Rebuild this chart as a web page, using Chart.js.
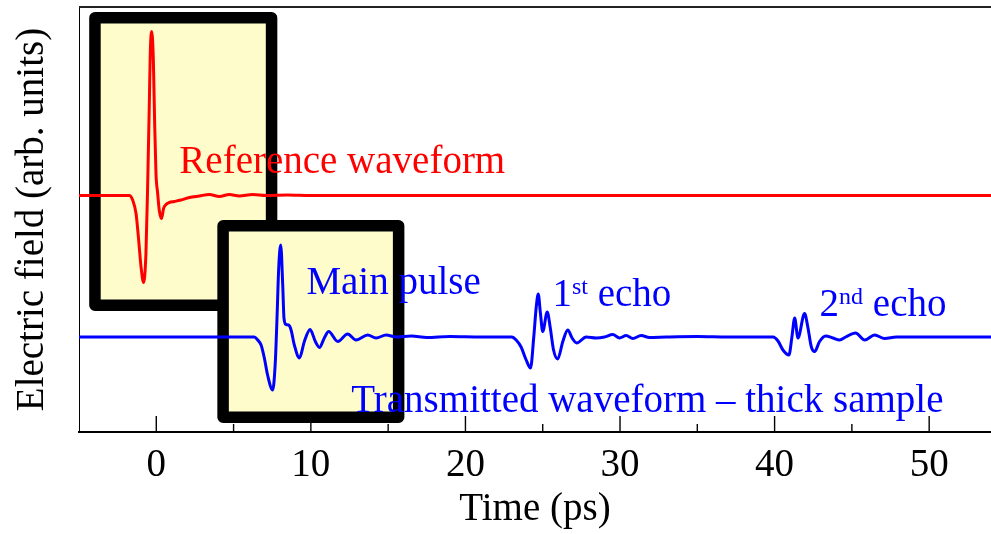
<!DOCTYPE html>
<html>
<head>
<meta charset="utf-8">
<title>Electric field vs time</title>
<script src="https://cdn.jsdelivr.net/npm/chart.js@4.4.1/dist/chart.umd.min.js"></script>
<style>
  html, body { margin: 0; padding: 0; background: #fff; }
  #wrap { width: 991px; height: 534px; }
</style>
</head>
<body>
<div id="wrap"><canvas id="waveChart"></canvas></div>
<script>
// time axis (ps)
const timeTicks = [0, 10, 20, 30, 40, 50];
const timeMinorTicks = [5, 15, 25, 35, 45];

// reference pulse, field relative to its own baseline
const refTime = [-5, -2.5, -1.75, -1.53, -1.31, -1.14, -0.99, -0.82, -0.67, -0.56, -0.45, -0.39, -0.30,
  -0.19, -0.11, -0.02, 0.09, 0.19, 0.34, 0.47, 0.63, 0.84, 1.17, 1.6, 2.14, 2.78, 3.43, 4.08, 4.72,
  5.37, 6.23, 7.1, 8.5, 10, 15, 25, 40, 54];
const refField = [0, 0, 0, -0.045, -0.18, -0.445, -0.71, -0.87, -0.58, 0.09, 0.92, 1.42, 1.64,
  1.355, 0.755, 0.22, 0.02, -0.145, -0.23, -0.13, -0.09, -0.07, -0.06, -0.045, -0.02, -0.005, 0.01, -0.01, 0.01,
  -0.005, 0.01, 0, 0.005, 0, 0, 0, 0, 0];

// transmitted pulse through the thick sample: main pulse, 1st and 2nd echo
const transTime = [-5, 5.5, 6.34, 6.56, 6.78, 6.99, 7.2, 7.53, 7.70, 7.81, 7.92, 8.05, 8.18, 8.26, 8.39,
  8.56, 8.72, 8.93, 9.26, 9.58, 9.95, 10.29, 10.55, 10.87, 11.15, 11.74, 12.38, 12.92, 13.68, 14.22,
  14.87, 15.52, 16.5, 17.5, 19, 21,
  23.0, 23.28, 23.6, 23.93, 24.21, 24.42, 24.58, 24.71, 24.85, 25.0, 25.29, 25.48, 25.7, 25.97, 26.3,
  26.62, 26.9, 27.2, 27.81, 28.46, 29.0, 29.53, 29.97, 30.4, 30.83, 31.37, 31.9, 33, 35, 37,
  39.9, 40.22, 40.54, 40.93, 41.12, 41.3, 41.51, 41.94, 42.16, 42.37, 42.59, 42.91, 43.3, 43.77, 44.21,
  44.6, 45.24, 45.83, 46.47, 47.12, 47.88, 50, 54];
const transField = [0, 0, 0, -0.03, -0.08, -0.21, -0.38, -0.53, -0.25, 0.19, 0.69, 0.92, 0.52, 0.19, 0.125,
  0.12, 0.07, -0.08, -0.21, -0.045, 0.075, -0.045, -0.105, -0.01, 0.055, -0.045, 0.03, -0.03, 0.02, -0.01,
  0.02, 0, 0.01, -0.005, 0.005, 0,
  0, -0.03, -0.1, -0.23, -0.31, 0, 0.30, 0.43, 0.24, 0.055, 0.25, 0.10, -0.13, -0.22, -0.045,
  0.07, -0.01, -0.06, 0, -0.01, 0, 0.025, -0.01, 0.015, -0.015, 0.015, -0.005, 0, 0.005, 0,
  0, -0.04, -0.13, -0.18, 0, 0.19, -0.01, 0.235, 0.09, -0.095, -0.145, -0.045, 0.01, -0.01, -0.03,
  0, 0.04, -0.03, 0.02, -0.015, 0, 0, 0];

// reference trace sits above the transmitted one
const refOffset = 1.415;

const serif = '"Liberation Serif", "Times New Roman", serif';

// highlighted pulse regions (data units)
const panels = [
  { x0: -4.34, x1: 7.83, y0: 0.26, y1: 3.25 },
  { x0: 3.95, x1: 16.05, y0: -0.86, y1: 1.17 }
];

// text notes: [text, superscript?]
const notes = [
  { x: 1.49, y: 1.64, color: '#ff0000', parts: [['Reference waveform']] },
  { x: 9.71, y: 0.43, color: '#0000ff', parts: [['Main pulse']] },
  { x: 25.63, y: 0.31, color: '#0000ff', parts: [['1'], ['st', true], [' echo']] },
  { x: 42.91, y: 0.21, color: '#0000ff', parts: [['2'], ['nd', true], [' echo']] },
  { x: 12.62, y: -0.75, color: '#0000ff', parts: [['Transmitted waveform \u2013 thick sample']] }
];

const decorations = {
  id: 'decorations',
  beforeDatasetsDraw(chart) {
    const { ctx, chartArea: a, scales: { x, y } } = chart;
    ctx.save();
    // top frame
    ctx.strokeStyle = '#222';
    ctx.lineWidth = 2;
    ctx.beginPath();
    ctx.moveTo(a.left, a.top);
    ctx.lineTo(a.right, a.top);
    ctx.stroke();

    // inward ticks on the time axis
    ctx.strokeStyle = '#000';
    ctx.lineWidth = 1.4;
    const tick = (v, len) => {
      const px = x.getPixelForValue(v);
      ctx.beginPath();
      ctx.moveTo(px, a.bottom);
      ctx.lineTo(px, a.bottom - len);
      ctx.stroke();
    };
    timeTicks.forEach(v => tick(v, 16));
    timeMinorTicks.forEach(v => tick(v, 8));

    // yellow panels with thick black frames
    const lw = 11.5;
    panels.forEach(p => {
      const l = x.getPixelForValue(p.x0) + lw / 2;
      const r = x.getPixelForValue(p.x1) - lw / 2;
      const t = y.getPixelForValue(p.y1) + lw / 2;
      const b = y.getPixelForValue(p.y0) - lw / 2;
      ctx.fillStyle = '#fffccc';
      ctx.fillRect(l, t, r - l, b - t);
      ctx.lineWidth = lw;
      ctx.lineJoin = 'round';
      ctx.strokeStyle = '#000';
      ctx.strokeRect(l, t, r - l, b - t);
    });
    ctx.restore();
  },
  afterDatasetsDraw(chart) {
    const { ctx, scales: { x, y } } = chart;
    ctx.save();
    ctx.textAlign = 'left';
    ctx.textBaseline = 'alphabetic';
    notes.forEach(n => {
      let px = x.getPixelForValue(n.x);
      const py = y.getPixelForValue(n.y);
      ctx.fillStyle = n.color;
      n.parts.forEach(([txt, sup]) => {
        ctx.font = (sup ? 24 : 39) + 'px ' + serif;
        ctx.fillText(txt, px, sup ? py - 12 : py);
        px += ctx.measureText(txt).width;
      });
    });
    ctx.restore();
  }
};

const toPoints = (ts, vs, off) => ts.map((t, i) => ({ x: t, y: vs[i] + off }));

new Chart(document.getElementById('waveChart'), {
  type: 'line',
  data: {
    datasets: [
      {
        label: 'Reference waveform',
        data: toPoints(refTime, refField, refOffset),
        borderColor: '#ff0000',
        borderWidth: 3,
        pointRadius: 0,
        cubicInterpolationMode: 'monotone'
      },
      {
        label: 'Transmitted waveform',
        data: toPoints(transTime, transField, 0),
        borderColor: '#0000ff',
        borderWidth: 3,
        pointRadius: 0,
        cubicInterpolationMode: 'monotone'
      }
    ]
  },
  options: {
    responsive: true,
    maintainAspectRatio: false,
    animation: false,
    devicePixelRatio: 1,
    layout: { padding: { top: 7, right: 0, bottom: 0, left: 0 } },
    plugins: { legend: { display: false }, tooltip: { enabled: false } },
    scales: {
      x: {
        type: 'linear',
        min: -5,
        max: 54,
        afterBuildTicks: s => { s.ticks = timeTicks.map(v => ({ value: v })); },
        afterFit: s => { s.height = 102; },
        grid: { display: false, drawTicks: false },
        border: { color: '#000', width: 2 },
        ticks: { padding: 10, color: '#000', maxRotation: 0, autoSkip: false, font: { family: serif, size: 39 } },
        title: { display: true, text: 'Time (ps)', color: '#000', font: { family: serif, size: 39 }, padding: { top: 0, bottom: 1 } }
      },
      y: {
        type: 'linear',
        min: -0.95,
        max: 3.30,
        afterFit: s => { s.width = 79; },
        grid: { display: false, drawTicks: false },
        border: { color: '#000', width: 1 },
        ticks: { display: false },
        title: { display: true, text: 'Electric field (arb. units)', color: '#000', font: { family: serif, size: 39 }, padding: { top: 9, bottom: 0 } }
      }
    }
  },
  plugins: [decorations]
});
</script>
</body>
</html>
